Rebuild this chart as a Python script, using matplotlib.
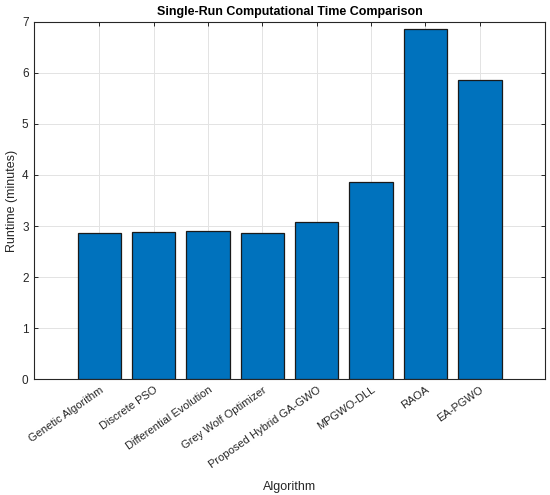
import matplotlib
matplotlib.use("Agg")
import matplotlib.pyplot as plt
import numpy as np

algorithms = ["Genetic Algorithm", "Discrete PSO", "Differential Evolution",
              "Grey Wolf Optimizer", "Proposed Hybrid GA-GWO", "MPGWO-DLL",
              "RAOA", "EA-PGWO"]
runtime_min = [2.87, 2.88, 2.90, 2.87, 3.07, 3.87, 6.86, 5.86]
y_ticks = [0, 1, 2, 3, 4, 5, 6, 7]

plt.rcParams['font.family'] = ['Liberation Sans', 'DejaVu Sans']
dark = "#262626"

fig = plt.figure(figsize=(5.5, 4.95), dpi=100)
ax = fig.add_axes([0.062, 0.234, 0.929, 0.722])

x = np.arange(1, len(algorithms) + 1)
ax.bar(x, runtime_min, width=0.8, color="#0072BD", edgecolor="#1a1a1a",
       linewidth=0.9, zorder=3)

ax.set_xlim(-0.2, len(algorithms) + 1.2)
ax.set_ylim(0, 7)
ax.set_yticks(y_ticks)
ax.set_xticks(x)
ax.set_xticklabels(algorithms, rotation=35, ha="right", va="top",
                   rotation_mode="anchor")

ax.grid(True, color="#e3e3e3", linewidth=0.7, zorder=0)
ax.tick_params(direction="in", top=True, right=True, length=3, width=0.7,
               colors=dark, labelsize=8, pad=4)
ax.tick_params(axis="y", labelsize=8.5)
for sp in ax.spines.values():
    sp.set_color(dark)
    sp.set_linewidth(0.8)

ax.set_title("Single-Run Computational Time Comparison", fontsize=9,
             fontweight="bold", color="black", pad=5)
ax.set_xlabel("Algorithm", fontsize=9, color=dark, labelpad=8)
ax.set_ylabel("Runtime (minutes)", fontsize=9, color=dark, labelpad=3)

fig.savefig("out.png", dpi=100)
